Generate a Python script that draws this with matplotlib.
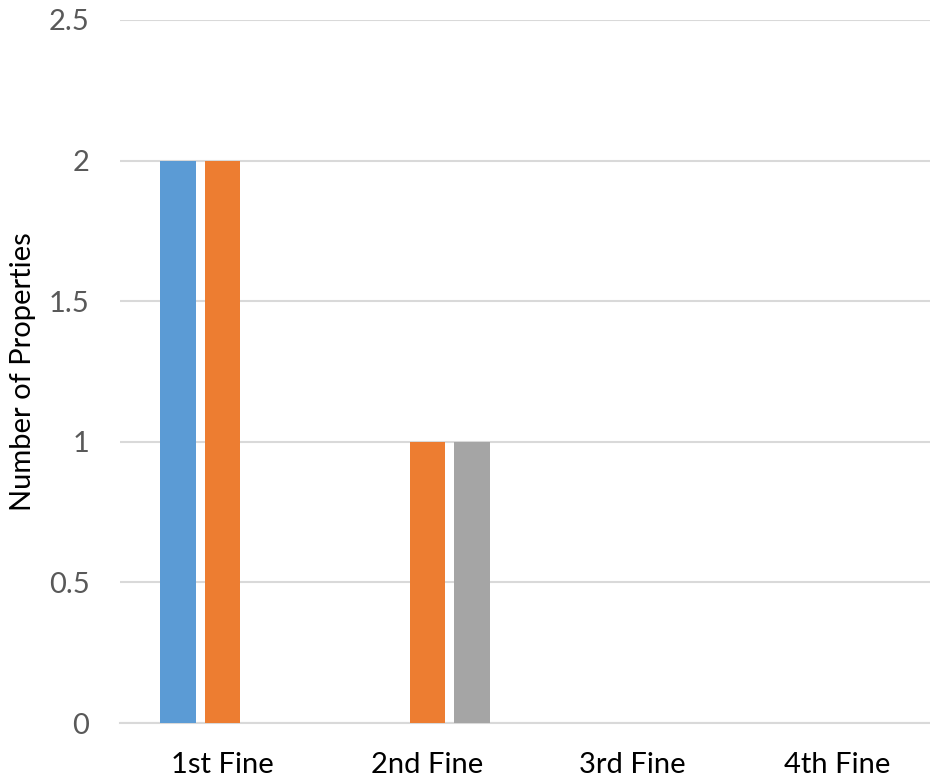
import numpy as np
import matplotlib
matplotlib.use('Agg')
import matplotlib.pyplot as plt

plt.rcParams['font.family'] = ['Lato', 'DejaVu Sans']

categories = ['1st Fine', '2nd Fine', '3rd Fine', '4th Fine']
series_a = [2, 0, 0, 0]
series_b = [2, 1, 0, 0]
series_c = [0, 1, 0, 0]
colors = ['#5b9bd5', '#ed7d31', '#a5a5a5']

fig = plt.figure(figsize=(9.30, 7.78), dpi=100)
# plot area runs a bit past the right edge, as in the reference
ax = fig.add_axes([120 / 930, 55 / 778, 820 / 930, 703 / 778])

x = np.arange(len(categories))
w = 0.1756
step = 0.2195
for i, vals in enumerate([series_a, series_b, series_c]):
    ax.bar(x + (i - 1) * step, vals, width=w, color=colors[i], zorder=3)

ax.set_xlim(-0.5, 3.5)
ax.set_ylim(0, 2.5)
ax.set_yticks([0, 0.5, 1, 1.5, 2, 2.5])
ax.set_yticklabels(['0', '0.5', '1', '1.5', '2', '2.5'])
ax.set_xticks(x)
ax.set_xticklabels(categories)

ax.grid(axis='y', color='#d9d9d9', linewidth=1.5, zorder=0)
for s in ['top', 'right', 'left']:
    ax.spines[s].set_visible(False)
ax.spines['bottom'].set_color('#d9d9d9')
ax.spines['bottom'].set_linewidth(1.5)
ax.tick_params(axis='both', length=0)
ax.tick_params(axis='y', labelsize=21, labelcolor='#595959', pad=22)
ax.tick_params(axis='x', labelsize=21, labelcolor='black', pad=21)

ax.set_ylabel('Number of Properties', fontsize=21, color='black')
ax.yaxis.set_label_coords(-84 / 820, 0.5)

fig.savefig('out.png', dpi=100)
